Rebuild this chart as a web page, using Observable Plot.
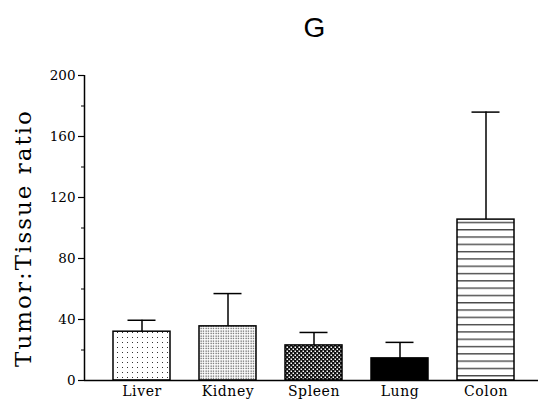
<!DOCTYPE html>
<html>
<head>
<meta charset="utf-8">
<script src="https://cdn.jsdelivr.net/npm/d3@7"></script>
<script src="https://cdn.jsdelivr.net/npm/@observablehq/plot@0.6"></script>
<style>
  html, body { margin: 0; padding: 0; background: #fff; }
  #chart { width: 539px; height: 405px; }
</style>
</head>
<body>
<div id="chart"></div>
<script>
const organs = ["Liver", "Kidney", "Spleen", "Lung", "Colon"];
const ratios = [32, 35.5, 23, 14.5, 105.5];
const errorsUpper = [39.5, 57, 31.5, 25, 176];
const patterns = ["pLiver", "pKidney", "pSpleen", "pLung", "pColon"];
const yTicksMajor = [0, 40, 80, 120, 160, 200];
const yTicksMinor = [20, 60, 100, 140, 180];

const data = organs.map((o, i) => ({organ: o, value: ratios[i], err: errorsUpper[i], pat: `url(#${patterns[i]})`}));

const W = 539, H = 405, ML = 84, MR = 1, MT = 75, MB = 25;
const serif = "'DejaVu Serif', 'Liberation Serif', serif";

const plot = Plot.plot({
  width: W,
  height: H,
  marginLeft: ML,
  marginRight: MR,
  marginTop: MT,
  marginBottom: MB,
  style: {fontFamily: serif, fontSize: "13px", background: "#fff", color: "#000"},
  x: {domain: organs, range: [98, 528], paddingInner: 0.34, paddingOuter: 0.17},
  y: {domain: [0, 200], range: [H - MB, MT]},
  marks: [
    Plot.barY(data, {x: "organ", y: "value", fill: "pat", stroke: "#000", strokeWidth: 1.5}),
    Plot.ruleX(data, {x: "organ", y1: "value", y2: "err", stroke: "#000", strokeWidth: 1.5}),
    Plot.tickY(data, {x: "organ", y: "err", stroke: "#000", strokeWidth: 1.5, insetLeft: 14.5, insetRight: 14.5}),
    Plot.ruleY([0], {stroke: "#000", strokeWidth: 1.5}),
    Plot.ruleX([0], {x: null, y1: 0, y2: 200, dx: -((W - ML - MR) / 2), stroke: "#000", strokeWidth: 1.5}),
    Plot.axisY({ticks: yTicksMajor, tickSize: 6, tickPadding: 3, fontSize: 13.5, label: null, tickFormat: d => String(d), stroke: "#000", strokeWidth: 1.2}),
    Plot.axisY({ticks: yTicksMinor, tickSize: 3, tickFormat: () => "", label: null, stroke: "#000", strokeWidth: 1}),
    Plot.axisX({tickSize: 0, tickPadding: 6, fontSize: 14, label: null}),
    Plot.text(["G"], {frameAnchor: "top", dx: 3, dy: -58, fontSize: 28, fontFamily: "'Liberation Sans', Arial, sans-serif", fill: "#000"}),
    Plot.text(["Tumor:Tissue ratio"], {frameAnchor: "left", textAnchor: "middle", dx: -61, dy: 10, rotate: -90, fontSize: 23, fill: "#000"})
  ]
});

const svg = d3.select(plot);
svg.selectAll("text").filter(function() { return this.textContent === "Tumor:Tissue ratio"; }).attr("letter-spacing", "2px");
svg.selectAll("[aria-label='x-axis tick label'] text").attr("letter-spacing", "0.6px");

// pattern definitions for bar fills
const defs = svg.insert("defs", ":first-child");
function pat(id, w, h) {
  const p = defs.append("pattern").attr("id", id).attr("patternUnits", "userSpaceOnUse").attr("width", w).attr("height", h);
  p.append("rect").attr("width", w).attr("height", h).attr("fill", "#fff");
  return p;
}
let p = pat("pLiver", 5, 5);
p.append("rect").attr("x", 2).attr("y", 2).attr("width", 1).attr("height", 1).attr("fill", "#333");
p = pat("pKidney", 2.5, 2.5);
p.append("rect").attr("x", 0.5).attr("y", 0.5).attr("width", 1.2).attr("height", 1.2).attr("fill", "#444");
p = pat("pSpleen", 4, 4);
p.append("rect").attr("width", 4).attr("height", 4).attr("fill", "#111");
p.append("rect").attr("x", 0.5).attr("y", 0.5).attr("width", 1.5).attr("height", 1.5).attr("fill", "#fff");
p.append("rect").attr("x", 2.5).attr("y", 2.5).attr("width", 1.5).attr("height", 1.5).attr("fill", "#fff");
p = pat("pLung", 4, 4);
p.append("rect").attr("width", 4).attr("height", 4).attr("fill", "#000");
p = pat("pColon", 10, 7.3);
p.append("rect").attr("x", 0).attr("y", 3).attr("width", 10).attr("height", 1).attr("fill", "#000");

document.getElementById("chart").appendChild(plot);
</script>
</body>
</html>
